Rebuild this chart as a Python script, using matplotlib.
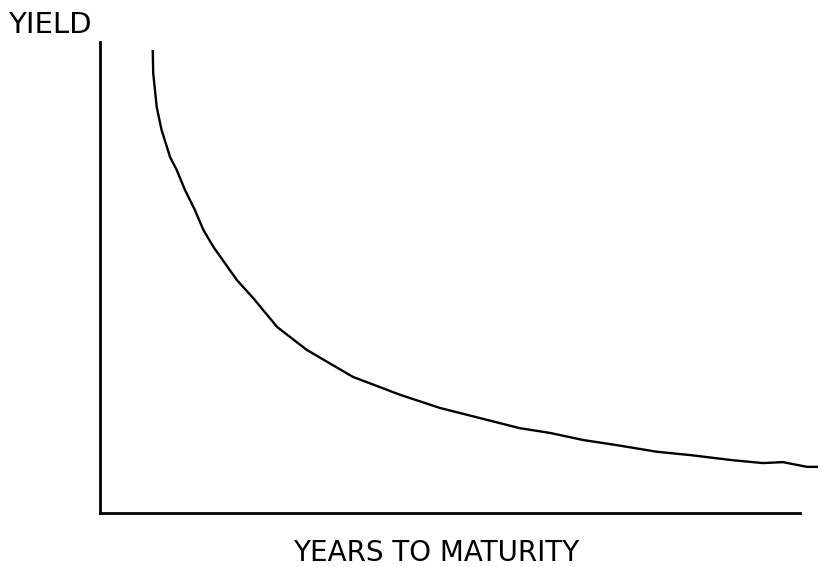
import matplotlib
matplotlib.use("Agg")
import matplotlib.pyplot as plt

# curve (years to maturity, yield in arbitrary units)
years = [2.26, 2.28, 2.43, 2.64, 3.0, 3.29, 3.64, 4.07, 4.43, 4.86, 5.36,
         5.86, 6.57, 7.59, 8.87, 10.84, 12.86, 14.57, 18.0, 19.29, 20.7,
         22.16, 23.87, 25.29, 27.13, 28.41, 29.27, 30.3, 30.77]
yields = [9.83, 9.34, 8.62, 8.13, 7.56, 7.28, 6.86, 6.43, 6.01, 5.65, 5.30,
          4.95, 4.56, 3.95, 3.46, 2.89, 2.51, 2.23, 1.80, 1.70, 1.55,
          1.44, 1.30, 1.23, 1.12, 1.06, 1.08, 0.98, 0.98]

W, H = 818, 567
fig = plt.figure(figsize=(W / 100, H / 100), dpi=100)
fig.patch.set_facecolor("white")

ax = fig.add_axes([100 / W, (H - 513) / H, 700 / W, 471 / H])
ax.plot(years, yields, color="black", linewidth=1.7, clip_on=False,
        solid_capstyle="butt", solid_joinstyle="round")

ax.set_xlim(0, 30)
ax.set_ylim(0, 10)
ax.spines["top"].set_visible(False)
ax.spines["right"].set_visible(False)
for s in ("left", "bottom"):
    ax.spines[s].set_linewidth(2)
    ax.spines[s].set_color("black")
ax.set_xticks([])
ax.set_yticks([])

fig.text(8 / W, 1 - 25 / H, "YIELD", fontsize=21, family="DejaVu Sans",
         ha="left", va="center")
fig.text(436 / W, 1 - 553 / H, "YEARS TO MATURITY", fontsize=20,
         family="DejaVu Sans", ha="center", va="center")

fig.savefig("out.png", dpi=100, facecolor="white")
